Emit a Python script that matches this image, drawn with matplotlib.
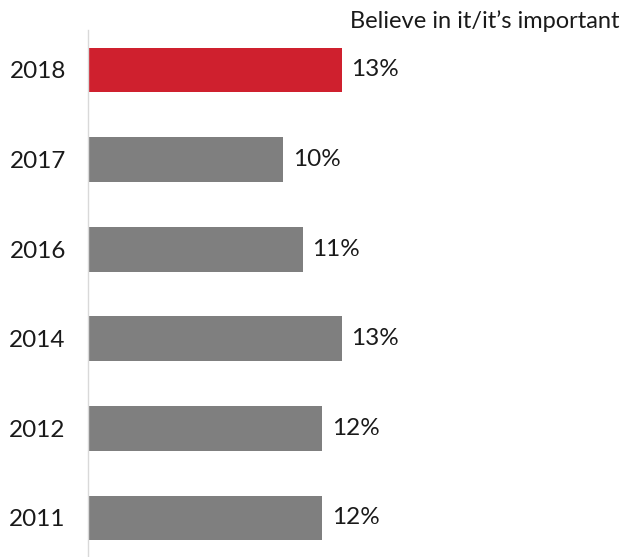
import matplotlib
matplotlib.use("Agg")
import matplotlib.pyplot as plt

years = ["2018", "2017", "2016", "2014", "2012", "2011"]
values = [13, 10, 11, 13, 12, 12]
colors = ["#CF202E", "#7F7F7F", "#7F7F7F", "#7F7F7F", "#7F7F7F", "#7F7F7F"]
title = "Believe in it/it\u2019s important"

plt.rcParams['font.family'] = ['Lato', 'DejaVu Sans']

W, H = 623, 557
fig = plt.figure(figsize=(W / 100, H / 100), dpi=100)
left_px, top_px, bottom_px = 88, 30, 557
ax = fig.add_axes([left_px / W, 1 - bottom_px / H, (W - left_px) / W, (bottom_px - top_px) / H])

pos = list(range(len(years)))
ax.barh(pos, values, height=0.5, color=colors)
ax.set_ylim(5 + (557 - 518) / 89.6, -(70 - 30) / 89.6)
ax.set_xlim(0, (W - left_px) / 19.5)
ax.set_yticks(pos)
ax.set_yticklabels(years, fontsize=17.5, color="#1a1a1a")
ax.tick_params(axis='y', length=0, pad=16)
ax.set_xticks([])
for s in ["top", "right", "bottom"]:
    ax.spines[s].set_visible(False)
ax.spines["left"].set_color("#D9D9D9")
ax.spines["left"].set_linewidth(1)

for p, v in zip(pos, values):
    ax.annotate(f"{v}%", (v, p), xytext=(7, 0), textcoords="offset points",
                va="center", ha="left", fontsize=17.5, color="#1a1a1a")

fig.text(620 / W, 1 - 21 / H, title, ha="right", va="center", fontsize=17, color="#1a1a1a")

fig.savefig("out.png", dpi=100)
